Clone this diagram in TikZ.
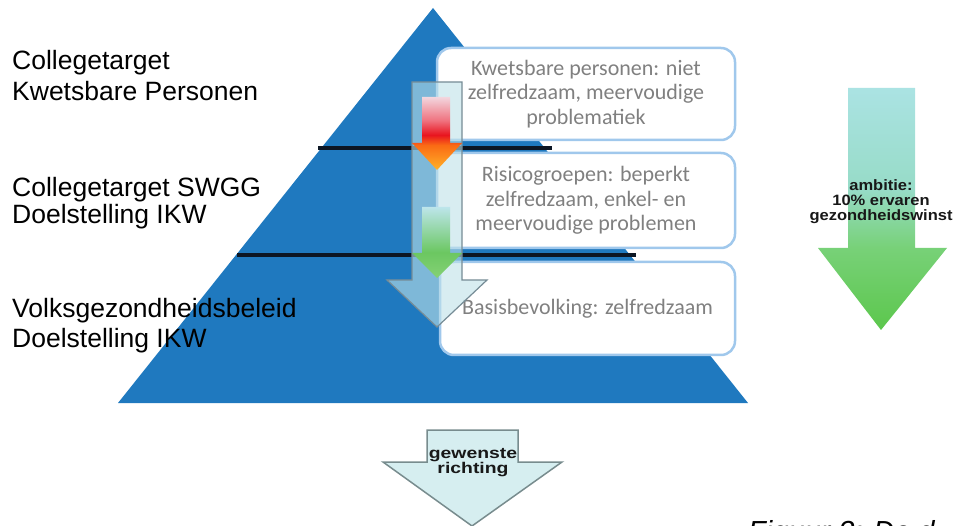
\documentclass[tikz,border=0pt]{standalone}
\usepackage{fontspec}
\setmainfont{Liberation Sans}
\newfontfamily\calib{Carlito}
\usepackage{graphicx}
\definecolor{pyrblue}{RGB}{31,121,191}
\definecolor{bandline}{RGB}{12,22,36}
\definecolor{boxedge}{RGB}{160,200,236}
\definecolor{boxtext}{RGB}{128,128,128}
\definecolor{paleflow}{RGB}{190,226,233}
\definecolor{flowedge}{RGB}{118,140,150}
\definecolor{dirfill}{RGB}{214,238,240}
\definecolor{diredge}{RGB}{120,140,142}
\definecolor{labeltext}{RGB}{24,24,24}

% vertical colour ramps for the small arrows (0bp = bottom, 100bp = top)
\pgfdeclareverticalshading{redramp}{100bp}{
  rgb(0bp)=(1,0.70,0.16); rgb(25bp)=(1,0.70,0.16);
  rgb(42bp)=(0.98,0.42,0.08); rgb(49bp)=(0.91,0.08,0.12);
  rgb(59bp)=(0.94,0.45,0.50); rgb(75bp)=(0.95,0.84,0.87);
  rgb(100bp)=(0.95,0.84,0.87)}
\pgfdeclareverticalshading{greenramp}{100bp}{
  rgb(0bp)=(0.52,0.82,0.46); rgb(25bp)=(0.52,0.82,0.46);
  rgb(43bp)=(0.42,0.78,0.38); rgb(75bp)=(0.74,0.90,0.92);
  rgb(100bp)=(0.74,0.90,0.92)}
\pgfdeclareverticalshading{aimramp}{100bp}{
  rgb(0bp)=(0.36,0.78,0.30); rgb(25bp)=(0.36,0.78,0.30);
  rgb(42bp)=(0.47,0.82,0.47); rgb(54bp)=(0.59,0.86,0.78);
  rgb(75bp)=(0.67,0.89,0.89); rgb(100bp)=(0.67,0.89,0.89)}

\tikzset{
  layerbox/.style={draw=boxedge, line width=2.5pt, fill=white,
    rounded corners=14pt, align=center, text=boxtext, inner sep=0pt,
    font=\calib\fontsize{22}{24.5}\selectfont},
  sidelabel/.style={anchor=base west, inner sep=0pt, text=black,
    font=\fontsize{26.5}{30}\selectfont},
  arrowlabel/.style={inner sep=0pt, text=labeltext, align=center},
  bandrule/.style={draw=bandline, line width=4pt},
}

\begin{document}
\begin{tikzpicture}[x=1pt,y=1pt]
\useasboundingbox (0,0) rectangle (961,-526);
\clip (0,0) rectangle (961,-526);

% pyramid
\fill[pyrblue] (433,-8) -- (748,-403) -- (118,-403) -- cycle;

% dividing rules between the layers
\coordinate (r1a) at (318,-148); \coordinate (r1b) at (552,-148);
\coordinate (r2a) at (237,-255); \coordinate (r2b) at (636,-255);
\draw[bandrule] (r1a) -- (r1b);
\draw[bandrule] (r2a) -- (r2b);

% layer descriptions
\node[layerbox, minimum width=298pt, minimum height=92pt] (top) at (586,-94)
  {Kwetsbare personen: niet\\zelfredzaam, meervoudige\\problematiek};
\node[layerbox, minimum width=298pt, minimum height=95pt] (mid) at (586,-200.5)
  {Risicogroepen: beperkt\\zelfredzaam, enkel- en\\meervoudige problemen};
\node[layerbox, minimum width=295pt, minimum height=93pt] (base) at (587.5,-308.5)
  {Basisbevolking: zelfredzaam};

% translucent downward flow arrow
\filldraw[fill=paleflow, fill opacity=0.6, draw=flowedge, line width=1.2pt]
  (412,-82) -- (462,-82) -- (462,-280) -- (487,-280) -- (437,-327)
  -- (387,-280) -- (412,-280) -- cycle;

% red / orange arrow
\shade[shading=redramp]
  (422,-97) -- (450,-97) -- (450,-143) -- (462,-143) -- (437,-170)
  -- (412,-143) -- (422,-143) -- cycle;

% green arrow
\shade[shading=greenramp]
  (422,-207) -- (450,-207) -- (450,-253) -- (462,-253) -- (437,-278)
  -- (412,-253) -- (422,-253) -- cycle;

% ambition arrow on the right
\shade[shading=aimramp]
  (848,-88) -- (915,-88) -- (915,-248) -- (947,-248) -- (881,-330)
  -- (818,-248) -- (848,-248) -- cycle;
\node[arrowlabel] (aim) at (881,-202.4)
  {\scalebox{1.1}[1]{\bfseries\fontsize{15}{14}\selectfont
   \begin{tabular}{@{}c@{}}ambitie:\\10\% ervaren\\gezondheidswinst\end{tabular}}};

% desired direction arrow
\filldraw[fill=dirfill, draw=diredge, line width=1.5pt]
  (427,-430) -- (518,-430) -- (518,-462) -- (562,-462) -- (472,-526)
  -- (383,-462) -- (427,-462) -- cycle;
\node[arrowlabel] (dir) at (473,-463)
  {\scalebox{1.25}[1]{\bfseries\fontsize{15.5}{14.5}\selectfont
   \begin{tabular}{@{}c@{}}gewenste\\richting\end{tabular}}};

% labels at the left
\node[sidelabel] (l1a) at (12,-70)  {Collegetarget};
\node[sidelabel] (l1b) at (12,-101) {Kwetsbare Personen};
\node[sidelabel] (l2a) at (12,-197) {Collegetarget SWGG};
\node[sidelabel] (l2b) at (12,-224) {Doelstelling IKW};
\node[sidelabel] (l3a) at (12,-318) {Volksgezondheidsbeleid};
\node[sidelabel] (l3b) at (12,-348) {Doelstelling IKW};

% caption
\node[anchor=base west, inner sep=0pt, font=\itshape\fontsize{29}{32}\selectfont]
  (cap) at (748,-541) {Figuur 3: De d};
\end{tikzpicture}
\end{document}
